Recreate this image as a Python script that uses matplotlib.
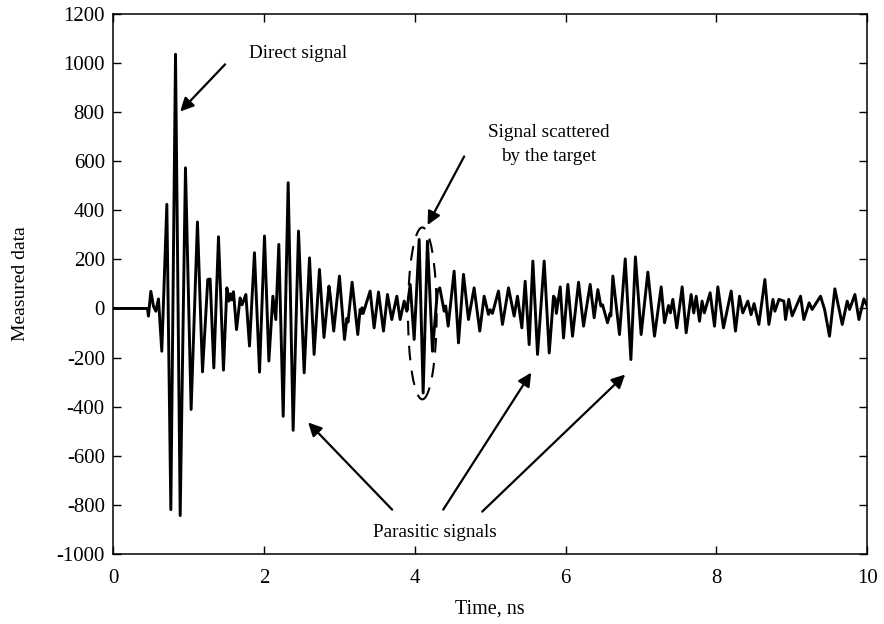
"""
Measured time-domain signal: direct signal, target return and parasitic echoes
"""
import matplotlib
matplotlib.use('Agg')
import matplotlib.pyplot as plt
from matplotlib.patches import Ellipse

time_ns = [0.0, 0.455, 0.468, 0.500, 0.535, 0.566, 0.601, 0.645, 0.712, 0.765,
           0.827, 0.889, 0.959, 1.034, 1.118, 1.185, 1.255, 1.286, 1.335, 1.397,
           1.463, 1.508, 1.535, 1.555, 1.575, 1.596, 1.636, 1.684, 1.710, 1.760,
           1.808, 1.874, 1.941, 2.007, 2.065, 2.118, 2.157, 2.197, 2.255, 2.321,
           2.387, 2.458, 2.533, 2.604, 2.665, 2.736, 2.796, 2.862, 2.880, 2.925,
           3.001, 3.068, 3.100, 3.115, 3.169, 3.244, 3.275, 3.290, 3.300, 3.315,
           3.408, 3.461, 3.519, 3.585, 3.638, 3.695, 3.762, 3.806, 3.859, 3.894,
           3.939, 3.992, 4.058, 4.111, 4.168, 4.235, 4.300, 4.332, 4.390, 4.410,
           4.443, 4.522, 4.580, 4.646, 4.712, 4.787, 4.862, 4.920, 4.977, 5.000,
           5.030, 5.110, 5.163, 5.243, 5.318, 5.362, 5.420, 5.464, 5.517, 5.566,
           5.628, 5.716, 5.783, 5.840, 5.862, 5.878, 5.929, 5.973, 6.030, 6.092,
           6.172, 6.238, 6.326, 6.379, 6.428, 6.468, 6.490, 6.556, 6.590, 6.600,
           6.627, 6.715, 6.791, 6.866, 6.926, 7.002, 7.091, 7.179, 7.268, 7.312,
           7.365, 7.390, 7.422, 7.475, 7.546, 7.599, 7.665, 7.700, 7.732, 7.776,
           7.810, 7.840, 7.917, 7.975, 8.019, 8.094, 8.196, 8.253, 8.307, 8.350,
           8.417, 8.460, 8.500, 8.563, 8.643, 8.696, 8.750, 8.776, 8.830, 8.895,
           8.917, 8.960, 9.005, 9.116, 9.160, 9.230, 9.270, 9.381, 9.435, 9.500,
           9.571, 9.669, 9.735, 9.766, 9.837, 9.890, 9.956, 10.0]
measured = [0, 0, -31, 70, 9, -11, 39, -174, 424, -819,
            1035, -843, 573, -411, 352, -258, 118, 120, -242, 292,
            -251, 84, 30, 60, 35, 68, -86, 43, 15, 57,
            -153, 227, -259, 295, -214, 50, -45, 261, -439, 512,
            -496, 315, -262, 206, -187, 159, -118, 91, 50, -92,
            132, -126, -40, -55, 107, -106, -4, -20, 3, -20,
            71, -79, 67, -92, 57, -45, 50, -45, 30, -11,
            98, -126, 281, -344, 274, -174, 70, 84, -11, 10,
            -72, 152, -140, 139, -45, 84, -92, 50, -24, -5,
            -20, 71, -65, 84, -31, 50, -79, 111, -147, 193,
            -187, 193, -181, 50, 40, -20, 88, -120, 98, -113,
            107, -72, 98, -38, 77, 10, 15, -58, -20, -30,
            132, -106, 202, -208, 210, -106, 148, -113, 88, -58,
            12, -18, 37, -79, 88, -99, 57, -18, 50, -52,
            30, -18, 64, -72, 88, -79, 71, -92, 50, -18,
            30, -25, 20, -65, 118, -65, 37, -11, 37, 30,
            -45, 37, -30, 50, -45, 23, -4, 50, -4, -113,
            80, -65, 30, -4, 57, -45, 39, 10]

x_ticks = [0, 2, 4, 6, 8, 10]
y_ticks = list(range(-1000, 1201, 200))

plt.rcParams['font.family'] = 'Liberation Serif'
plt.rcParams['font.size'] = 13.8
plt.rcParams['axes.unicode_minus'] = False

fig = plt.figure(figsize=(8.84, 6.24), dpi=100)
ax = fig.add_axes([0.128, 0.112, 0.853, 0.866])

ax.plot(time_ns, measured, color='black', lw=2.1, solid_joinstyle='round')

ax.set_xlim(0, 10)
ax.set_ylim(-1000, 1200)
ax.set_xticks(x_ticks)
ax.set_yticks(y_ticks)
ax.tick_params(direction='in', top=True, right=True, length=6, width=1, labelsize=15)
ax.tick_params(axis='x', pad=11)
ax.tick_params(axis='y', pad=6)
for s in ax.spines.values():
    s.set_linewidth(1.1)

ax.set_xlabel('Time, ns', fontsize=14.5, labelpad=8)
ax.set_ylabel('Measured data', fontsize=14, labelpad=20)

arrow = dict(arrowstyle='-|>', color='black', lw=1.6, mutation_scale=20, shrinkA=0, shrinkB=0)

ax.text(1.8, 1040, 'Direct signal', ha='left', va='center')
ax.annotate('', xy=(0.889, 802), xytext=(1.485, 994), arrowprops=arrow)

ax.text(5.78, 668, 'Signal scattered\nby the target', ha='center', va='center', linespacing=1.5)
ax.annotate('', xy=(4.17, 340), xytext=(4.655, 619), arrowprops=arrow)
ax.add_patch(Ellipse((4.1, -20), 0.38, 700, fill=False, ls=(0, (7, 5)), lw=1.5, color='black'))

ax.text(4.27, -912, 'Parasitic signals', ha='center', va='center')
ax.annotate('', xy=(2.586, -464), xytext=(3.70, -819), arrowprops=arrow)
ax.annotate('', xy=(5.544, -261), xytext=(4.377, -819), arrowprops=arrow)
ax.annotate('', xy=(6.79, -269), xytext=(4.894, -827), arrowprops=arrow)

fig.savefig('out.png', dpi=100)
